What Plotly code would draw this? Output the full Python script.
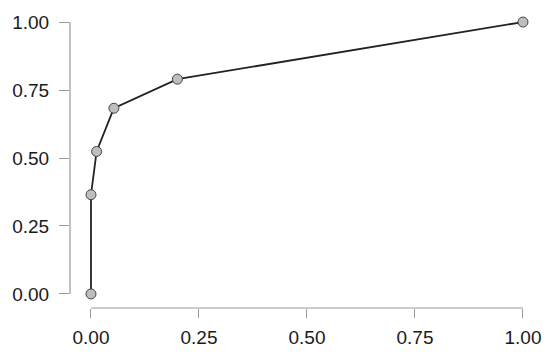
import plotly.graph_objects as go

# ROC-style points
fpr = [0, 0, 0.013, 0.053, 0.2, 1]
tpr = [0, 0.365, 0.524, 0.683, 0.79, 1]
ticks = [0, 0.25, 0.5, 0.75, 1]
tick_text = ["0.00", "0.25", "0.50", "0.75", "1.00"]

axis_grey = "#9a9a9a"

fig = go.Figure(go.Scatter(
    x=fpr, y=tpr, mode="lines+markers",
    line=dict(color="#222222", width=1.8),
    marker=dict(size=10, color="#bebebe", line=dict(color="#444444", width=1)),
    cliponaxis=False,
))

# axis lines only span the data range, like base R graphics
fig.add_shape(type="line", xref="x", yref="paper", x0=ticks[0], x1=ticks[-1], y0=0, y1=0,
              line=dict(color=axis_grey, width=1.2))
fig.add_shape(type="line", xref="paper", yref="y", x0=0, x1=0, y0=ticks[0], y1=ticks[-1],
              line=dict(color=axis_grey, width=1.2))

fig.update_xaxes(range=[-0.0486, 1.051], tickvals=ticks, ticktext=tick_text,
                 ticks="outside", ticklen=9, tickcolor=axis_grey, tickwidth=1.2,
                 showline=False, showgrid=False, zeroline=False,
                 automargin=False, ticklabelstandoff=3)
fig.update_yaxes(range=[-0.0517, 1.0517], tickvals=ticks, ticktext=tick_text,
                 ticks="outside", ticklen=10, tickcolor=axis_grey, tickwidth=1.2,
                 showline=False, showgrid=False, zeroline=False,
                 automargin=False, ticklabelstandoff=6)

# page body has an 8px margin, so the figure is a bit smaller than the window
fig.update_layout(
    width=542, height=347,
    margin=dict(l=62, r=5, t=0, b=47),
    plot_bgcolor="white", paper_bgcolor="white",
    font=dict(family="Arial, Liberation Sans, sans-serif", size=19, color="#1a1a1a"),
    showlegend=False,
)

fig.write_html("out.html")
